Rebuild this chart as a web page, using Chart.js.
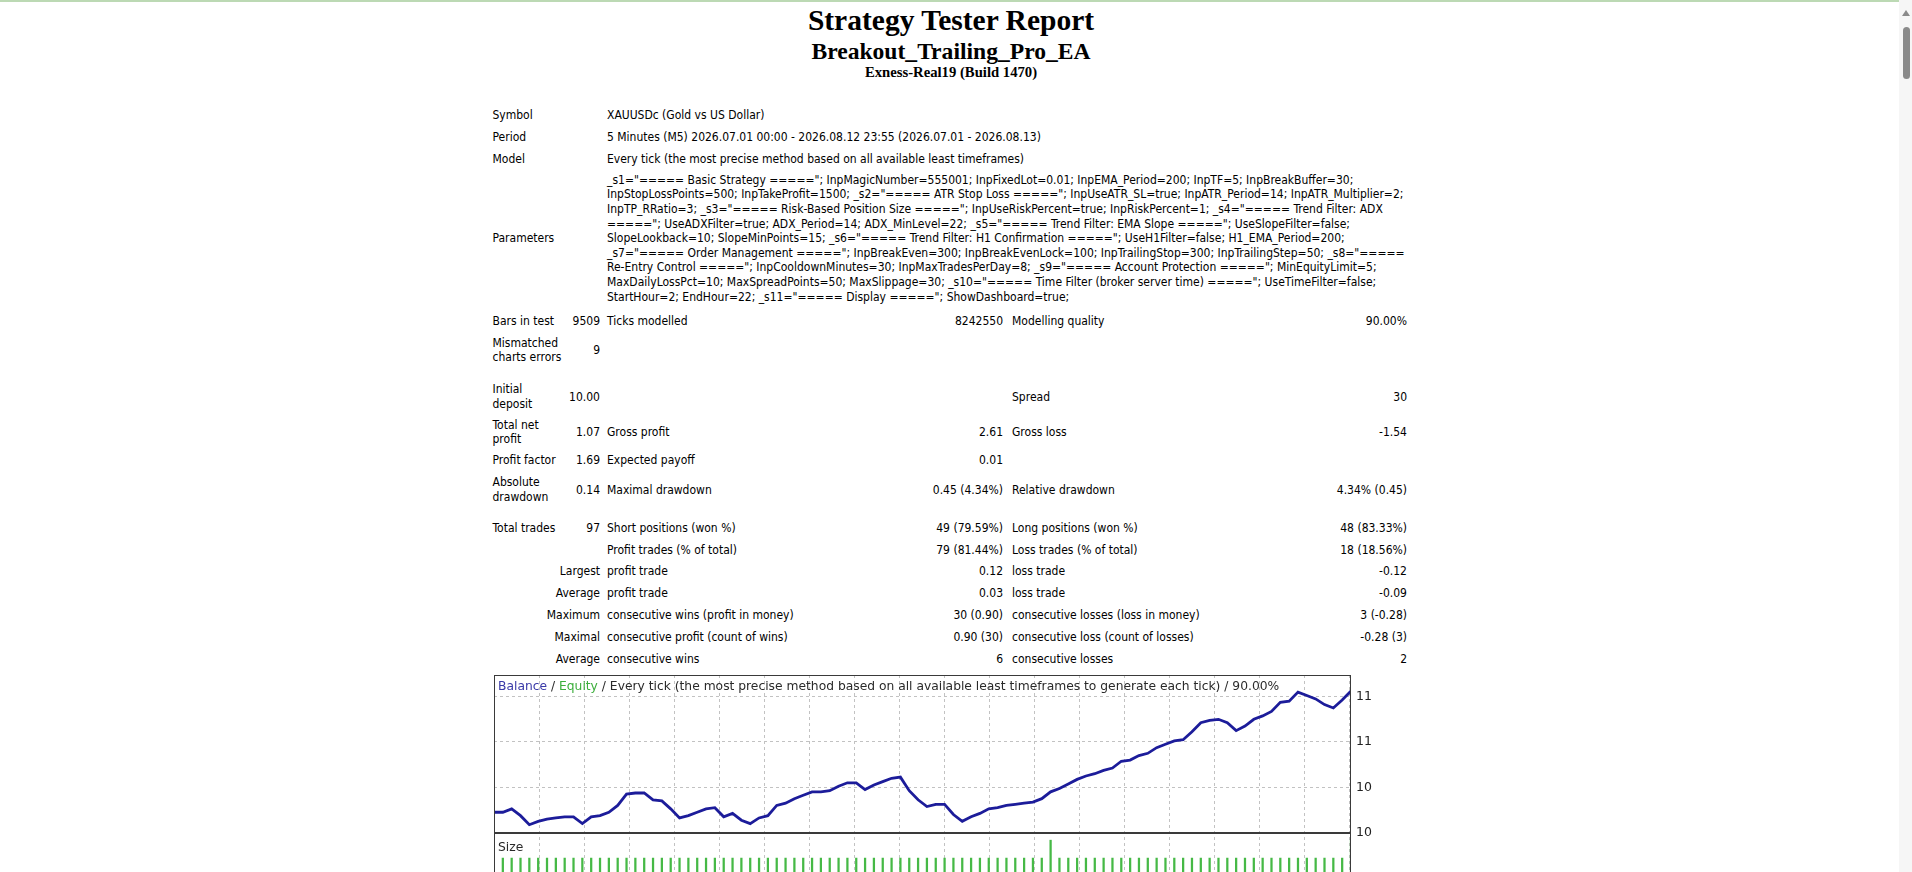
<!DOCTYPE html>
<html>
<head>
<meta charset="utf-8">
<title>Strategy Tester: Breakout_Trailing_Pro_EA</title>
<script src="https://cdn.jsdelivr.net/npm/chart.js@4.4.1/dist/chart.umd.min.js"></script>
<style>
  html, body { margin:0; padding:0; background:#fff; width:1912px; height:872px; overflow:hidden; }
  #topline { position:absolute; left:0; top:0; width:1912px; height:2px; background:#bcd9b4; }
  .hd { position:absolute; left:0; width:1902px; text-align:center; font-family:"Liberation Serif","Times New Roman",serif; font-weight:bold; color:#000; white-space:nowrap; }
  .tx { position:absolute; font-family:"DejaVu Sans Condensed","DejaVu Sans",sans-serif; font-stretch:condensed; font-size:12px; line-height:14.6px; color:#000; white-space:nowrap; }
  #bal { position:absolute; left:494px; top:675px; }
  .cap { position:absolute; font-family:"DejaVu Sans",sans-serif; font-size:12.3px; color:#2a2a2a; white-space:nowrap; line-height:14px; }
  #sbar { position:absolute; left:1899px; top:0; width:13px; height:872px; background:#f6f6f6; }
  #thumb { position:absolute; left:4px; top:27px; width:7px; height:52px; background:#8a8a8a; border-radius:4px; }
  #arrow { position:absolute; left:3px; top:10px; width:0; height:0; border-left:4.5px solid transparent; border-right:4.5px solid transparent; border-bottom:6px solid #8a8a8a; }
</style>
</head>
<body>
<div id="topline"></div>
<div class="hd" style="top:5px;font-size:29.5px;line-height:30px;">Strategy Tester Report</div>
<div class="hd" style="top:38.5px;font-size:23.6px;line-height:24px;">Breakout_Trailing_Pro_EA</div>
<div class="hd" style="top:65px;font-size:14.7px;line-height:15px;">Exness-Real19 (Build 1470)</div>
<div id="rep"></div>
<canvas id="bal" width="906" height="201"></canvas>
<div class="cap" style="left:498px;top:679px;"><span style="color:#3a3aa8">Balance</span> / <span style="color:#3cae3c">Equity</span> / Every tick (the most precise method based on all available least timeframes to generate each tick) / 90.00%</div>
<div class="cap" style="left:498px;top:840px;">Size</div>
<div id="sbar"><div id="arrow"></div><div id="thumb"></div></div>
<script>
// balance after each closed trade (trade 0 = initial deposit)
var balance = [
  10.00, 10.00, 10.03,  9.97,  9.89,  9.92,  9.94,  9.95,  9.96,  9.96,
   9.90,  9.96,  9.97, 10.00, 10.06, 10.16, 10.17, 10.17, 10.11, 10.10,
  10.03,  9.95,  9.97, 10.00, 10.03, 10.04,  9.96,  9.99,  9.93,  9.90,
   9.95,  9.97, 10.06, 10.08, 10.12, 10.15, 10.18, 10.18, 10.19, 10.23,
  10.26, 10.26, 10.20, 10.24, 10.27, 10.30, 10.31, 10.19, 10.11, 10.05,
  10.07, 10.07,  9.98,  9.92,  9.96,  9.99, 10.03, 10.04, 10.06, 10.07,
  10.08, 10.09, 10.12, 10.18, 10.21, 10.25, 10.29, 10.32, 10.34, 10.37,
  10.39, 10.45, 10.46, 10.50, 10.52, 10.57, 10.60, 10.63, 10.64, 10.71,
  10.79, 10.81, 10.82, 10.79, 10.72, 10.76, 10.82, 10.85, 10.89, 10.97,
  10.98, 11.06, 11.03, 11.00, 10.95, 10.92, 10.99, 11.07
];
// lot size of each trade
var lotSize = [
  null, 0.01, 0.01, 0.01, 0.01, 0.01, 0.01, 0.01, 0.01, 0.01,
  0.01, 0.01, 0.01, 0.01, 0.01, 0.01, 0.01, 0.01, 0.01, 0.01,
  0.01, 0.01, 0.01, 0.01, 0.01, 0.01, 0.01, 0.01, 0.01, 0.01,
  0.01, 0.01, 0.01, 0.01, 0.01, 0.01, 0.01, 0.01, 0.01, 0.01,
  0.01, 0.01, 0.01, 0.01, 0.01, 0.01, 0.01, 0.01, 0.01, 0.01,
  0.01, 0.01, 0.01, 0.01, 0.01, 0.01, 0.01, 0.01, 0.01, 0.01,
  0.01, 0.01, 0.01, 0.02, 0.01, 0.01, 0.01, 0.01, 0.01, 0.01,
  0.01, 0.01, 0.01, 0.01, 0.01, 0.01, 0.01, 0.01, 0.01, 0.01,
  0.01, 0.01, 0.01, 0.01, 0.01, 0.01, 0.01, 0.01, 0.01, 0.01,
  0.01, 0.01, 0.01, 0.01, 0.01, 0.01, 0.01, 0.02
];
var tradeNo = Array.from({length: balance.length}, (_, index) => index);

// axis ranges and grid of the tester picture
var balMin = 9.817, balMax = 11.211;
var yGrid = [9.82, 10.22, 10.62, 11.02];
var gridStep = 45 / (857 / 97);   // tester grid: every 45px
var xGrid = [];
for (var g = 5.15; g < 97; g += gridStep) xGrid.push(g);

var paramLines = [
  '_s1="===== Basic Strategy ====="; InpMagicNumber=555001; InpFixedLot=0.01; InpEMA_Period=200; InpTF=5; InpBreakBuffer=30;',
  'InpStopLossPoints=500; InpTakeProfit=1500; _s2="===== ATR Stop Loss ====="; InpUseATR_SL=true; InpATR_Period=14; InpATR_Multiplier=2;',
  'InpTP_RRatio=3; _s3="===== Risk-Based Position Size ====="; InpUseRiskPercent=true; InpRiskPercent=1; _s4="===== Trend Filter: ADX',
  '====="; UseADXFilter=true; ADX_Period=14; ADX_MinLevel=22; _s5="===== Trend Filter: EMA Slope ====="; UseSlopeFilter=false;',
  'SlopeLookback=10; SlopeMinPoints=15; _s6="===== Trend Filter: H1 Confirmation ====="; UseH1Filter=false; H1_EMA_Period=200;',
  '_s7="===== Order Management ====="; InpBreakEven=300; InpBreakEvenLock=100; InpTrailingStop=300; InpTrailingStep=50; _s8="=====',
  'Re-Entry Control ====="; InpCooldownMinutes=30; InpMaxTradesPerDay=8; _s9="===== Account Protection ====="; MinEquityLimit=5;',
  'MaxDailyLossPct=10; MaxSpreadPoints=50; MaxSlippage=30; _s10="===== Time Filter (broker server time) ====="; UseTimeFilter=false;',
  'StartHour=2; EndHour=22; _s11="===== Display ====="; ShowDashboard=true;'
];

// [row centre y, label, value, label, value, label, value]  (label starting with > is right aligned)
var reportRows = [
  [115.5, 'Symbol', null, 'XAUUSDc (Gold vs US Dollar)'],
  [137.5, 'Period', null, '5 Minutes (M5) 2026.07.01 00:00 - 2026.08.12 23:55 (2026.07.01 - 2026.08.13)'],
  [159.5, 'Model', null, 'Every tick (the most precise method based on all available least timeframes)'],
  [238.5, 'Parameters', null, paramLines.join('<br>')],
  [321.5, 'Bars in test', '9509', 'Ticks modelled', '8242550', 'Modelling quality', '90.00%'],
  [350.5, 'Mismatched<br>charts errors', '9'],
  [397, 'Initial<br>deposit', '10.00', '', '', 'Spread', '30'],
  [432.5, 'Total net<br>profit', '1.07', 'Gross profit', '2.61', 'Gross loss', '-1.54'],
  [460.5, 'Profit factor', '1.69', 'Expected payoff', '0.01'],
  [490, 'Absolute<br>drawdown', '0.14', 'Maximal drawdown', '0.45 (4.34%)', 'Relative drawdown', '4.34% (0.45)'],
  [528.5, 'Total trades', '97', 'Short positions (won %)', '49 (79.59%)', 'Long positions (won %)', '48 (83.33%)'],
  [550.5, '', '', 'Profit trades (% of total)', '79 (81.44%)', 'Loss trades (% of total)', '18 (18.56%)'],
  [571, '>Largest', '', 'profit trade', '0.12', 'loss trade', '-0.12'],
  [593, '>Average', '', 'profit trade', '0.03', 'loss trade', '-0.09'],
  [615, '>Maximum', '', 'consecutive wins (profit in money)', '30 (0.90)', 'consecutive losses (loss in money)', '3 (-0.28)'],
  [637, '>Maximal', '', 'consecutive profit (count of wins)', '0.90 (30)', 'consecutive loss (count of losses)', '-0.28 (3)'],
  [659, '>Average', '', 'consecutive wins', '6', 'consecutive losses', '2']
];
var colX = [492.5, 600, 607, 1003, 1012, 1407];
var colRight = [false, true, false, true, false, true];

function put(x, y, txt, right) {
  if (!txt) return;
  var d = document.createElement('div');
  d.className = 'tx';
  d.innerHTML = txt;
  var lines = txt.split('<br>').length;
  d.style.top = (y - lines * 14.6 / 2) + 'px';
  if (right) {
    d.style.left = (x - 600) + 'px';
    d.style.width = '600px';
    d.style.textAlign = 'right';
  } else {
    d.style.left = x + 'px';
  }
  document.getElementById('rep').appendChild(d);
}

reportRows.forEach(row => {
  var y = row[0];
  for (var c = 1; c < row.length; c++) {
    var t = row[c];
    if (c == 1 && t && t[0] == '>') {
      put(colX[1], y, t.slice(1), true);
    } else {
      put(colX[c - 1], y, t, colRight[c - 1]);
    }
  }
});

// frame round each panel of the tester picture
var panelFrame = {
  id: 'panelFrame',
  afterDraw(chart) {
    var ctx = chart.ctx, a = chart.chartArea;
    ctx.save();
    ctx.strokeStyle = '#3a3a3a';
    ctx.lineWidth = 1;
    ['y', 'ys'].forEach(id => {
      var s = chart.scales[id];
      ctx.strokeRect(Math.round(a.left) + 0.5, Math.round(s.top) + 0.5,
        Math.round(a.right - a.left) - 1, Math.round(s.bottom - s.top) - 1);
    });
    ctx.restore();
  }
};

function noPad(s) {
  s.width = 49;
  s.paddingTop = 0;
  s.paddingBottom = 0;
}

function drawBalanceChart() {
  var ctx = document.getElementById('bal').getContext('2d');
  var myChart = new Chart(ctx, {
    type: 'line',
    data: {
      labels: tradeNo,
      datasets: [{
          type: 'line',
          label: 'Balance',
          data: balance,
          yAxisID: 'y',
          borderColor: '#1c1c9a',
          backgroundColor: 'rgba(0,0,0,0)',
          borderWidth: 2.8, lineTension: 0, pointRadius: 0,
          order: 0
        }, {
          type: 'bar',
          label: 'Size',
          data: lotSize,
          yAxisID: 'ys',
          backgroundColor: '#46b946',
          barThickness: 1.6,
          order: 1
        }
      ]
    },
    options: {
      responsive: false,
      animation: false,
      layout: { padding: 0 },
      plugins: { legend: { display: false }, tooltip: { enabled: false } },
      scales: {
        x: {
          type: 'linear',
          min: 0, max: tradeNo.length - 1,
          offset: false,
          grid: { color: '#c2c2c2', drawTicks: false, offset: false },
          border: { display: false, dash: [3, 3] },
          ticks: { display: false },
          afterBuildTicks: s => { s.ticks = xGrid.map(v => ({ value: v })); },
          afterFit: s => { s.height = 0; s.paddingLeft = 0; s.paddingRight = 0; }
        },
        y: {
          position: 'right',
          stack: 'panels',
          stackWeight: 158,
          min: balMin, max: balMax,
          grid: { color: '#c2c2c2', drawTicks: false },
          border: { display: false, dash: [3, 3] },
          ticks: {
            color: '#222', padding: 5,
            font: { family: 'DejaVu Sans', size: 12.5 },
            callback: v => Math.round(v)
          },
          afterBuildTicks: s => { s.ticks = yGrid.map(v => ({ value: v })); },
          afterFit: noPad
        },
        ys: {
          position: 'right',
          stack: 'panels',
          stackWeight: 43,
          min: 0, max: 0.024,
          grid: { display: false },
          border: { display: false },
          ticks: { display: false },
          afterFit: noPad
        }
      }
    },
    plugins: [panelFrame]
  });
  return myChart;
}

drawBalanceChart();
</script>
</body>
</html>
